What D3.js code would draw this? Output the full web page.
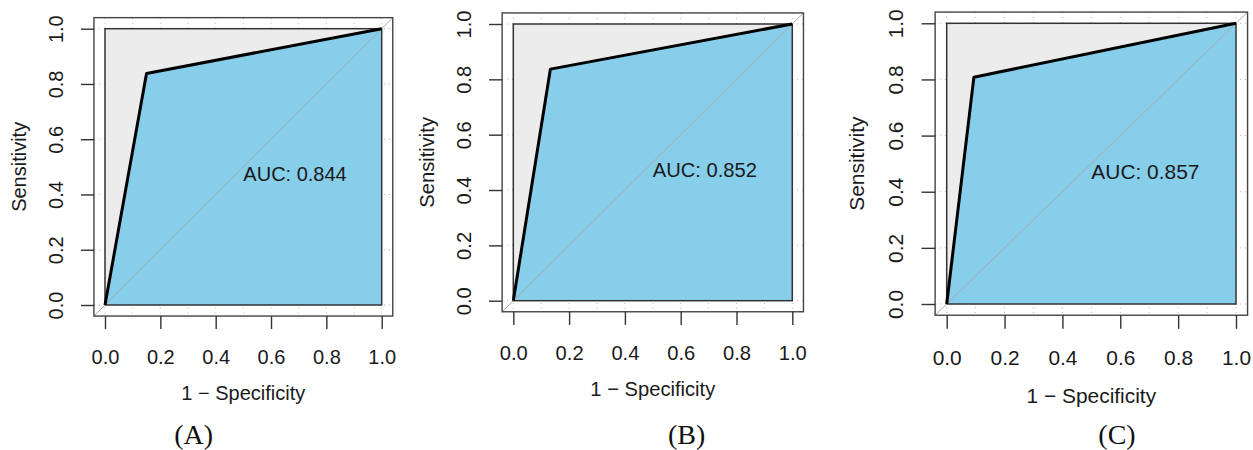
<!DOCTYPE html>
<html>
<head>
<meta charset="utf-8">
<script src="https://cdn.jsdelivr.net/npm/d3@7"></script>
<style>
  body { margin: 0; background: #fff; }
  svg text { font-family: "Liberation Sans", Arial, Helvetica, sans-serif; fill: #1a1a1a; }
  svg text.panel { font-family: "Liberation Serif", "Times New Roman", serif; fill: #111; }
</style>
</head>
<body>
<div id="chart"></div>
<script>
// ROC points (1 - specificity, sensitivity) for each model
var panelNames = ['(A)', '(B)', '(C)'];
var rocA = [[0, 0], [0.15, 0.838], [1, 1]];
var rocB = [[0, 0], [0.133, 0.837], [1, 1]];
var rocC = [[0, 0], [0.094, 0.808], [1, 1]];
var aucLabels = ['AUC: 0.844', 'AUC: 0.852', 'AUC: 0.857'];
var tickValues = [0, 0.2, 0.4, 0.6, 0.8, 1.0];
var gridV = [0, 0.1, 0.2, 0.3, 0.4, 0.5, 0.6, 0.7, 0.8, 0.9, 1.0];
var gridH = [0, 0.2, 0.4, 0.6, 0.8, 1.0];

var rocs = [rocA, rocB, rocC];

// where each little plot sits on the page (data area left/top, size)
var layout = [
  {left: 105,   top: 28.7, w: 276.7, h: 276.3, labelX: 193.7},
  {left: 513.3, top: 24,   w: 279,   h: 276.7, labelX: 686.7},
  {left: 946.7, top: 23.3, w: 289.3, h: 280.7, labelX: 1117}
];

var W = 1253, H = 450;

var svg = d3.select('#chart')
  .append('svg')
    .attr('width', W)
    .attr('height', H);

rocs.forEach(function(roc, i) {
  var L = layout[i];
  var k = L.w / 276.7;

  var x = d3.scaleLinear().domain([0, 1]).range([0, L.w]);
  var y = d3.scaleLinear().domain([0, 1]).range([L.h, 0]);

  var g = svg.append('g')
    .attr('transform', 'translate(' + L.left + ',' + L.top + ')');

  var x0 = x(-0.04), x1 = x(1.04), y0 = y(-0.04), y1 = y(1.04);

  var clipId = 'clip' + i;
  g.append('clipPath').attr('id', clipId)
    .append('rect')
      .attr('x', x0).attr('y', y1)
      .attr('width', x1 - x0).attr('height', y0 - y1);

  var plot = g.append('g').attr('clip-path', 'url(#' + clipId + ')');

  // dotted grid
  plot.selectAll('line.gv')
      .data(gridV)
    .enter().append('line')
      .attr('class', 'gv')
      .attr('x1', x).attr('x2', x)
      .attr('y1', y1).attr('y2', y0)
      .attr('stroke', '#7fd07f')
      .attr('stroke-width', 1)
      .attr('stroke-dasharray', '1,4');

  plot.selectAll('line.gh')
      .data(gridH)
    .enter().append('line')
      .attr('class', 'gh')
      .attr('y1', y).attr('y2', y)
      .attr('x1', x0).attr('x2', x1)
      .attr('stroke', '#e69a9a')
      .attr('stroke-width', 1)
      .attr('stroke-dasharray', '1,4');

  // max auc polygon
  plot.append('rect')
    .attr('x', x(0)).attr('y', y(1))
    .attr('width', x(1) - x(0)).attr('height', y(0) - y(1))
    .attr('fill', '#ececec');

  // auc polygon
  var area = roc.concat([[1, 0]]);
  plot.append('path')
    .attr('d', d3.line().x(function(d) { return x(d[0]); }).y(function(d) { return y(d[1]); })(area) + 'Z')
    .attr('fill', '#87ceeb');

  plot.append('rect')
    .attr('x', x(0)).attr('y', y(1))
    .attr('width', x(1) - x(0)).attr('height', y(0) - y(1))
    .attr('fill', 'none')
    .attr('stroke', '#333')
    .attr('stroke-width', 1.5);

  // identity line
  plot.append('line')
    .attr('x1', x(-0.04)).attr('y1', y(-0.04))
    .attr('x2', x(1.04)).attr('y2', y(1.04))
    .attr('stroke', '#aaa')
    .attr('stroke-width', 1);

  // roc curve
  plot.append('path')
    .datum(roc)
    .attr('d', d3.line().x(function(d) { return x(d[0]); }).y(function(d) { return y(d[1]); }))
    .attr('fill', 'none')
    .attr('stroke', '#000')
    .attr('stroke-width', 3)
    .attr('stroke-linejoin', 'round');

  // box
  g.append('rect')
    .attr('x', x0).attr('y', y1)
    .attr('width', x1 - x0).attr('height', y0 - y1)
    .attr('fill', 'none')
    .attr('stroke', '#444')
    .attr('stroke-width', 1.4);

  // axes
  var xAxis = g.append('g')
    .attr('transform', 'translate(0,' + y0 + ')')
    .call(d3.axisBottom(x).tickValues(tickValues).tickSize(13 * k).tickFormat(d3.format('.1f')));
  xAxis.select('.domain').remove();
  xAxis.selectAll('line').attr('stroke', '#333').attr('stroke-width', 1.4);
  xAxis.selectAll('text')
    .attr('y', 41 * k + 7 * k)
    .attr('dy', 0)
    .style('font-size', (20 * k) + 'px')
    .style('fill', '#1a1a1a');

  var yAxis = g.append('g')
    .attr('transform', 'translate(' + x0 + ',0)')
    .call(d3.axisLeft(y).tickValues(tickValues).tickSize(13 * k).tickFormat(d3.format('.1f')));
  yAxis.select('.domain').remove();
  yAxis.selectAll('line').attr('stroke', '#333').attr('stroke-width', 1.4);
  yAxis.selectAll('text')
    .attr('transform', 'rotate(-90)')
    .attr('x', 0)
    .attr('y', -(38 * k - 7 * k))
    .attr('dy', 0)
    .attr('text-anchor', 'middle')
    .style('font-size', (20 * k) + 'px')
    .style('fill', '#1a1a1a');

  // titles
  g.append('text')
    .attr('x', L.w / 2)
    .attr('y', L.h + 95 * k)
    .attr('text-anchor', 'middle')
    .style('font-size', (20 * k) + 'px')
    .text('1 \u2212 Specificity');

  g.append('text')
    .attr('transform', 'translate(' + (-86 * k + 7 * k) + ',' + (L.h / 2) + ') rotate(-90)')
    .attr('text-anchor', 'middle')
    .style('font-size', (20 * k) + 'px')
    .text('Sensitivity');

  g.append('text')
    .attr('x', x(0.5))
    .attr('y', y(0.5) + 14.5 * k)
    .style('font-size', (20 * k) + 'px')
    .text(aucLabels[i]);

  svg.append('text')
    .attr('class', 'panel')
    .attr('x', L.labelX)
    .attr('y', 444)
    .attr('text-anchor', 'middle')
    .style('font-size', '28px')
    .text(panelNames[i]);
});
</script>
</body>
</html>
